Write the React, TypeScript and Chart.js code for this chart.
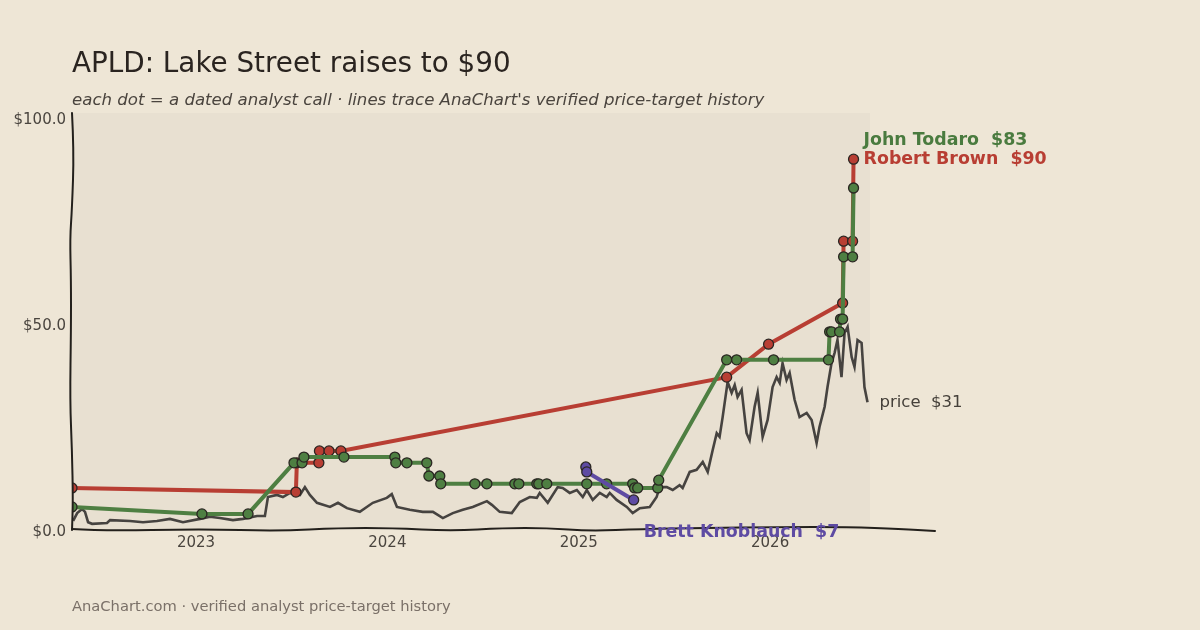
import React, { useEffect, useRef } from "react";
import { Chart, registerables } from "chart.js";

Chart.register(...registerables);

const FONT = '"DejaVu Sans", "Liberation Sans", sans-serif';
const PAGE_BG = "#EEE6D6";
const PLOT_BG = "#E8E0D1";

// x axis: decimal years
const yearTicks = [2023, 2024, 2025, 2026];
const dollarTicks = [0, 50, 100];
const xMin = 2022.352;
const xMax = 2026.522;
const yMax = 101.2;

// APLD share price
const priceDates = [
  2022.358, 2022.379, 2022.405, 2022.42, 2022.436, 2022.457, 2022.535, 2022.551, 2022.655, 2022.723, 2022.796, 2022.864, 2022.932,
  2023.021, 2023.073, 2023.125, 2023.193, 2023.245, 2023.319, 2023.36, 2023.376, 2023.423, 2023.454, 2023.491, 2023.543, 2023.569, 2023.595, 2023.632, 2023.7, 2023.742, 2023.789, 2023.856, 2023.924, 2023.997,
  2024.023, 2024.05, 2024.117, 2024.185, 2024.238, 2024.29, 2024.342, 2024.394, 2024.446, 2024.52, 2024.546, 2024.587, 2024.65, 2024.692, 2024.744, 2024.781, 2024.796, 2024.838, 2024.89, 2024.916, 2024.953, 2024.99,
  2025.021, 2025.042, 2025.073, 2025.11, 2025.146, 2025.162, 2025.198, 2025.251, 2025.282, 2025.319, 2025.371, 2025.407, 2025.423, 2025.46, 2025.491, 2025.527, 2025.543, 2025.58, 2025.616, 2025.648, 2025.674, 2025.7, 2025.721, 2025.736, 2025.752, 2025.778, 2025.799, 2025.815, 2025.83, 2025.851, 2025.877, 2025.893, 2025.919, 2025.935, 2025.961, 2025.987,
  2026.013, 2026.034, 2026.05, 2026.065, 2026.086, 2026.102, 2026.128, 2026.154, 2026.191, 2026.217, 2026.243, 2026.258, 2026.285, 2026.3, 2026.321, 2026.337, 2026.352, 2026.373, 2026.389, 2026.405, 2026.426, 2026.441, 2026.457, 2026.478, 2026.493, 2026.509,
];
const priceValues = [
  2.2, 4.1, 5.1, 4.4, 1.9, 1.5, 1.7, 2.4, 2.2, 1.9, 2.2, 2.7, 1.9,
  2.7, 3.2, 2.9, 2.4, 2.7, 3.4, 3.4, 8.0, 8.5, 8.0, 9.0, 8.5, 10.4, 8.5, 6.6, 5.6, 6.6, 5.3, 4.4, 6.6, 7.8,
  8.7, 5.6, 4.9, 4.4, 4.4, 2.9, 4.1, 4.9, 5.6, 7.0, 6.1, 4.4, 4.1, 6.8, 8.0, 7.8, 9.0, 6.6, 10.4, 10.2, 9.0, 9.7,
  8.0, 9.7, 7.3, 9.0, 8.0, 9.0, 7.3, 5.6, 4.1, 5.3, 5.6, 8.0, 10.4, 10.4, 9.7, 10.9, 10.2, 14.1, 14.6, 16.5, 14.1, 19.4, 23.5, 22.6, 27.4, 35.9, 33.3, 35.2, 32.3, 34.0, 23.5, 21.8, 29.9, 33.3, 22.6, 26.7,
  34.7, 37.1, 35.7, 40.5, 36.4, 38.1, 31.6, 27.4, 28.4, 26.7, 21.1, 25.0, 29.9, 34.7, 40.5, 43.0, 46.1, 37.1, 47.8, 49.3, 42.0, 39.6, 46.1, 45.4, 34.7, 31.0,
];

// John Todaro price targets
const todaroDates = [
  2022.352, 2023.031, 2023.272, 2023.512, 2023.554, 2023.564, 2023.773, 2024.039, 2024.044, 2024.102, 2024.206, 2024.217, 2024.274, 2024.279,
  2024.457, 2024.52, 2024.666, 2024.687, 2024.781, 2024.791, 2024.833, 2025.042, 2025.146, 2025.282, 2025.292, 2025.308, 2025.413, 2025.418,
  2025.773, 2025.825, 2026.018, 2026.305, 2026.311, 2026.321, 2026.363, 2026.368, 2026.379, 2026.384, 2026.431, 2026.436,
];
const todaroTargets = [
  5.6, 3.9, 3.9, 16.3, 16.3, 17.7, 17.7, 17.7, 16.3, 16.3, 16.3, 13.1, 13.1, 11.2,
  11.2, 11.2, 11.2, 11.2, 11.2, 11.2, 11.2, 11.2, 11.2, 11.2, 10.2, 10.2, 10.2, 12.1,
  41.3, 41.3, 41.3, 41.3, 48.1, 48.1, 48.1, 51.2, 51.2, 66.3, 66.3, 83.0,
];

// Robert Brown price targets
const brownDates = [2022.352, 2023.522, 2023.527, 2023.642, 2023.645, 2023.695, 2023.757, 2025.773, 2025.992, 2026.379, 2026.384, 2026.431, 2026.436];
const brownTargets = [10.2, 9.2, 16.3, 16.3, 19.2, 19.2, 19.2, 37.1, 45.1, 55.1, 70.1, 70.1, 90.0];

// Brett Knoblauch price targets
const knoblauchDates = [2025.037, 2025.042, 2025.287];
const knoblauchTargets = [15.3, 14.1, 7.3];

const GREEN = "#4E7F42";
const RED = "#B83E33";
const PURPLE = "#5E4BA3";
const PRICE = "#464340";
const EDGE = "#2a2622";

const zip = (xs: number[], ys: number[]) => xs.map((x, i) => ({ x, y: ys[i] }));

const analystDataset = (label: string, xs: number[], ys: number[], color: string, order: number) => ({
  label,
  data: zip(xs, ys),
  borderColor: color,
  backgroundColor: color,
  borderWidth: 4,
  pointRadius: 5,
  pointBackgroundColor: color,
  pointBorderColor: EDGE,
  pointBorderWidth: 1.3,
  tension: 0,
  order,
});

const decorPlugin = {
  id: "decor",
  beforeDraw(chart: any) {
    const { ctx, chartArea: a } = chart;
    ctx.save();
    ctx.fillStyle = PAGE_BG;
    ctx.fillRect(0, 0, chart.width, chart.height);
    ctx.fillStyle = PLOT_BG;
    ctx.fillRect(a.left, a.top, a.right - a.left, a.bottom - a.top);
    ctx.restore();
  },
  afterDraw(chart: any) {
    const { ctx, chartArea: a, scales } = chart;
    const xs = scales.x;
    const ys = scales.y;
    ctx.save();
    // hand-drawn spines
    ctx.strokeStyle = "#23201c";
    ctx.lineWidth = 2;
    ctx.lineCap = "round";
    const h = a.bottom - a.top;
    const leftWob = [
      [0, 0], [0.09, 2], [0.23, 0], [0.3, -2], [0.4, -1], [0.52, -1], [0.69, -2], [0.81, 0], [0.93, 1], [1, 0],
    ];
    const lp = leftWob.map(([f, dx]) => [a.left + dx, a.top + f * h]);
    const drawSmooth = (pts: number[][]) => {
      ctx.beginPath();
      ctx.moveTo(pts[0][0], pts[0][1]);
      for (let i = 1; i < pts.length - 1; i++) {
        const mx = (pts[i][0] + pts[i + 1][0]) / 2;
        const my = (pts[i][1] + pts[i + 1][1]) / 2;
        ctx.quadraticCurveTo(pts[i][0], pts[i][1], mx, my);
      }
      const last = pts[pts.length - 1];
      ctx.lineTo(last[0], last[1]);
      ctx.stroke();
    };
    drawSmooth(lp);
    const w = a.right + 65 - a.left;
    const botWob = [
      [0, -1], [0.035, 1], [0.15, -1], [0.24, 1], [0.31, -2], [0.37, -2], [0.44, 1], [0.5, -2], [0.55, -2], [0.6, 1], [0.66, -1], [0.73, -2], [0.82, -3], [0.9, -3], [0.96, -1], [1, 1],
    ];
    const bp = botWob.map(([f, dy]) => [a.left + f * w, a.bottom + dy]);
    drawSmooth(bp);

    // end labels
    ctx.textBaseline = "middle";
    ctx.textAlign = "left";
    const lastOf = (xsArr: number[], ysArr: number[]) => [xsArr[xsArr.length - 1], ysArr[ysArr.length - 1]];
    const [bx, by] = lastOf(brownDates, brownTargets);
    const [tx, ty] = lastOf(todaroDates, todaroTargets);
    const [kx, ky] = lastOf(knoblauchDates, knoblauchTargets);
    const [px, pv] = lastOf(priceDates, priceValues);
    ctx.font = `bold 17.4px ${FONT}`;
    ctx.fillStyle = RED;
    const brownY = ys.getPixelForValue(by);
    ctx.fillText(`Robert Brown  $${Math.round(by)}`, xs.getPixelForValue(bx) + 10, brownY);
    ctx.fillStyle = "#4A7B3F";
    ctx.fillText(`John Todaro  $${Math.round(ty)}`, xs.getPixelForValue(tx) + 10, Math.min(ys.getPixelForValue(ty), brownY - 19));
    ctx.fillStyle = PURPLE;
    ctx.fillText(`Brett Knoblauch  $${Math.round(ky)}`, xs.getPixelForValue(kx) + 10, ys.getPixelForValue(ky) + 33);
    ctx.font = `16.5px ${FONT}`;
    ctx.fillStyle = "#45403a";
    ctx.fillText(`price  $${Math.round(pv)}`, xs.getPixelForValue(px) + 12, ys.getPixelForValue(pv));
    ctx.restore();
  },
};

export default function App() {
  const ref = useRef<HTMLCanvasElement>(null);
  useEffect(() => {
    const canvas = ref.current;
    if (!canvas) return;
    const chart = new Chart(canvas, {
      type: "line",
      data: {
        datasets: [
          {
            label: "price",
            data: zip(priceDates, priceValues),
            borderColor: PRICE,
            borderWidth: 2.6,
            pointRadius: 0,
            tension: 0,
            order: 10,
          } as any,
          analystDataset("Robert Brown", brownDates, brownTargets, RED, 3),
          analystDataset("John Todaro", todaroDates, todaroTargets, GREEN, 2),
          analystDataset("Brett Knoblauch", knoblauchDates, knoblauchTargets, PURPLE, 1),
        ],
      },
      options: {
        animation: false,
        responsive: false,
        maintainAspectRatio: false,
        layout: { padding: { left: 0, right: 330, top: 113, bottom: 0 } },
        plugins: { legend: { display: false }, tooltip: { enabled: false }, title: { display: false } },
        scales: {
          x: {
            type: "linear",
            min: xMin,
            max: xMax,
            grid: { display: false, drawTicks: false },
            border: { display: false },
            afterBuildTicks: (s: any) => {
              s.ticks = yearTicks.map((v) => ({ value: v }));
            },
            afterFit: (s: any) => {
              s.height = 100;
            },
            ticks: {
              padding: 4,
              color: "#4a453f",
              font: { family: FONT, size: 15 },
              callback: (v: any) => String(v),
              maxRotation: 0,
            },
          },
          y: {
            type: "linear",
            min: 0,
            max: yMax,
            grid: { display: false, drawTicks: false },
            border: { display: false },
            afterBuildTicks: (s: any) => {
              s.ticks = dollarTicks.map((v) => ({ value: v }));
            },
            afterFit: (s: any) => {
              s.width = 72;
            },
            ticks: {
              padding: 6,
              labelOffset: 2,
              color: "#4a453f",
              font: { family: FONT, size: 15 },
              callback: (v: any) => `$${Number(v).toFixed(1)}`,
            },
          },
        },
      } as any,
      plugins: [decorPlugin],
    });
    return () => chart.destroy();
  }, []);

  return (
    <div style={{ position: "absolute", left: 0, top: 0, width: 1200, height: 630, background: PAGE_BG, overflow: "hidden", fontFamily: FONT }}>
      <canvas ref={ref} width={1200} height={630} style={{ position: "absolute", left: 0, top: 0, width: 1200, height: 630 }} />
      <div style={{ position: "absolute", left: 72, top: 49, fontSize: 27.8, lineHeight: "27.8px", color: "#2a2420", whiteSpace: "nowrap" }}>
        APLD: Lake Street raises to $90
      </div>
      <div style={{ position: "absolute", left: 72, top: 92, fontSize: 16.6, lineHeight: "16.6px", fontStyle: "italic", color: "#4a443e", whiteSpace: "nowrap" }}>
        each dot = a dated analyst call · lines trace AnaChart's verified price-target history
      </div>
      <div style={{ position: "absolute", left: 72, top: 598.5, fontSize: 14.7, lineHeight: "14.7px", color: "#7a7068", whiteSpace: "nowrap" }}>
        AnaChart.com · verified analyst price-target history
      </div>
    </div>
  );
}
